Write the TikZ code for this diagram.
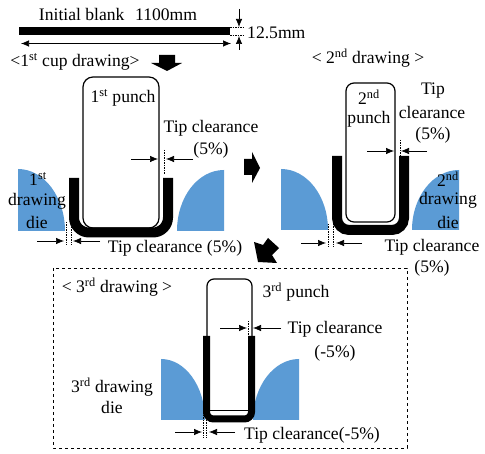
\documentclass[tikz,border=0pt]{standalone}
\usepackage{fontspec}
\usetikzlibrary{arrows.meta}
\setmainfont{Liberation Serif}
\tikzset{
  txt/.style={font=\fontsize{17.6}{19}\selectfont, inner sep=0pt},
  punch/.style={draw=black, line width=1.2pt, fill=white, rounded corners=#1},
  cup/.style={draw=black, line width=#1},
  die/.style={fill=dieblue},
  dim/.style={->, line width=0.7pt},
  guide/.style={dash pattern=on 1.5pt off 1pt, line width=0.5pt},
  blockarrow/.style={fill=black}
}
\definecolor{dieblue}{HTML}{5B9BD5}
\begin{document}
\begin{tikzpicture}[x=1pt, y=-1pt, >={Latex[length=8pt,width=6.5pt]}, every node/.style={txt}]
  \useasboundingbox (0,0) rectangle (485,454);

  % blank
  \fill (19,27.5) rectangle (230,35.5);
  \node (blanklabel) at (118,14) {Initial blank\hspace{0.6em}1100mm};
  \coordinate (blankL) at (21,43.5);
  \coordinate (blankR) at (231,43.5);
  \draw[<->, line width=0.7pt] (blankL) -- (blankR);
  \draw[guide] (230,27.5) -- (245,27.5);
  \draw[guide] (230,35.5) -- (245,35.5);
  \coordinate (thickA) at (239,9);
  \coordinate (thickB) at (239,27);
  \coordinate (thickC) at (239,50);
  \coordinate (thickD) at (239,36);
  \draw[dim] (thickA) -- (thickB);
  \draw[dim] (thickC) -- (thickD);
  \node[right] (thicklabel) at (247,33) {12.5mm};

  % 1st drawing
  \node (firsttitle) at (75,62) {<1\textsuperscript{st} cup drawing>};
  \fill[blockarrow] (159,55) -- (175,55) -- (175,63) -- (182,63) -- (167,71) -- (151,63) -- (159,63) -- cycle;
  \draw[punch=10pt] (83,77) rectangle (159,228);
  \draw[cup=10pt, rounded corners=15pt] (74,178) -- (74,232.5) -- (168,232.5) -- (168,178);
  \fill[die] (18,169) .. controls (44,169) and (65,197) .. (65,231) -- (18,231) -- cycle;
  \fill[die] (224,170) .. controls (198,170) and (177,197) .. (177,231) -- (224,231) -- cycle;
  \node (firstpunch) at (123,98) {1\textsuperscript{st} punch};
  \node (firsttipA) at (211,128) {Tip clearance};
  \node (firsttipB) at (211,150) {(5\%)};
  \node (firstdieA) at (38,179) {1\textsuperscript{st}};
  \node (firstdieB) at (37,201) {drawing};
  \node (firstdieC) at (37,222) {die};
  \node (firsttipC) at (175,248) {Tip clearance (5\%)};
  \draw[guide] (164.5,150) -- (164.5,175);
  \coordinate (ftA) at (131,159);
  \coordinate (ftB) at (158,159);
  \coordinate (ftC) at (193,159);
  \coordinate (ftD) at (166,159);
  \draw[dim] (ftA) -- (ftB);
  \draw[dim] (ftC) -- (ftD);
  \draw[guide] (66,222) -- (66,245);
  \draw[guide] (71,222) -- (71,245);
  \coordinate (fbA) at (37,241);
  \coordinate (fbB) at (64,241);
  \coordinate (fbC) at (100,241);
  \coordinate (fbD) at (73,241);
  \draw[dim] (fbA) -- (fbB);
  \draw[dim] (fbC) -- (fbD);

  % arrows between the steps
  \fill[blockarrow] (244,159) -- (252,159) -- (252,152) -- (260,168) -- (252,183) -- (252,175) -- (244,175) -- cycle;
  \fill[blockarrow] (279,248) -- (268,238) -- (263,245) -- (254,242) -- (258,262) -- (277,263) -- (272,255) -- cycle;

  % 2nd drawing
  \node (secondtitle) at (368,58) {< 2\textsuperscript{nd} drawing >};
  \draw[punch=8pt] (346,83) rectangle (395,222);
  \draw[cup=10pt, rounded corners=12pt] (337,156) -- (337,230) -- (404,230) -- (404,156);
  \fill[die] (281,169) .. controls (307,169) and (328,196) .. (328,230) -- (281,230) -- cycle;
  \fill[die] (459,170) .. controls (433,170) and (412,197) .. (412,230) -- (459,230) -- cycle;
  \node (secondpunchA) at (369,97) {2\textsuperscript{nd}};
  \node (secondpunchB) at (369,119) {punch};
  \node (secondtipA) at (433,91) {Tip};
  \node (secondtipB) at (432,112) {clearance};
  \node (secondtipC) at (433,135) {(5\%)};
  \node (seconddieA) at (448,179) {2\textsuperscript{nd}};
  \node (seconddieB) at (448,200) {drawing};
  \node (seconddieC) at (448,222) {die};
  \node (secondtipD) at (432,247) {Tip clearance};
  \node (secondtipE) at (432,268) {(5\%)};
  \draw[guide] (400,140) -- (400,158);
  \coordinate (stA) at (367,151);
  \coordinate (stB) at (394,151);
  \coordinate (stC) at (427,151);
  \coordinate (stD) at (401,151);
  \draw[dim] (stA) -- (stB);
  \draw[dim] (stC) -- (stD);
  \draw[guide] (328,224) -- (328,247);
  \draw[guide] (333,224) -- (333,247);
  \coordinate (sbA) at (301,243);
  \coordinate (sbB) at (326,243);
  \coordinate (sbC) at (362,243);
  \coordinate (sbD) at (336,243);
  \draw[dim] (sbA) -- (sbB);
  \draw[dim] (sbC) -- (sbD);

  % 3rd drawing
  \draw[dashed, line width=0.9pt] (53,268) rectangle (407,448);
  \node (thirdtitle) at (117,287) {< 3\textsuperscript{rd} drawing >};
  \draw[line width=1.2pt, rounded corners=7pt] (207,340) -- (207,279) -- (252,279) -- (252,340);
  \fill[die] (161,359) .. controls (185,359) and (205,386) .. (205,420) -- (161,420) -- cycle;
  \fill[die] (299,359) .. controls (274,359) and (253,386) .. (253,420) -- (299,420) -- cycle;
  \draw[cup=7pt, rounded corners=7pt] (206.5,336) -- (206.5,419) -- (251.5,419) -- (251.5,336);
  \draw[line width=0.6pt] (210,410) -- (248,410);
  \node (thirdpunch) at (296,292) {3\textsuperscript{rd} punch};
  \node (thirdtipA) at (335,329) {Tip clearance};
  \node (thirdtipB) at (335,353) {(-5\%)};
  \node (thirddieA) at (112,387) {3\textsuperscript{rd} drawing};
  \node (thirddieB) at (112,407) {die};
  \node (thirdtipC) at (312,435) {Tip clearance(-5\%)};
  \draw[guide] (248,321) -- (248,336);
  \coordinate (ttA) at (220,328);
  \coordinate (ttB) at (247,328);
  \coordinate (ttC) at (281,328);
  \coordinate (ttD) at (253,328);
  \draw[dim] (ttA) -- (ttB);
  \draw[dim] (ttC) -- (ttD);
  \draw[guide] (203,400) -- (203,438);
  \draw[guide] (206,400) -- (206,438);
  \coordinate (tbA) at (175,432);
  \coordinate (tbB) at (202,432);
  \coordinate (tbC) at (235,432);
  \coordinate (tbD) at (209,432);
  \draw[dim] (tbA) -- (tbB);
  \draw[dim] (tbC) -- (tbD);
\end{tikzpicture}
\end{document}
